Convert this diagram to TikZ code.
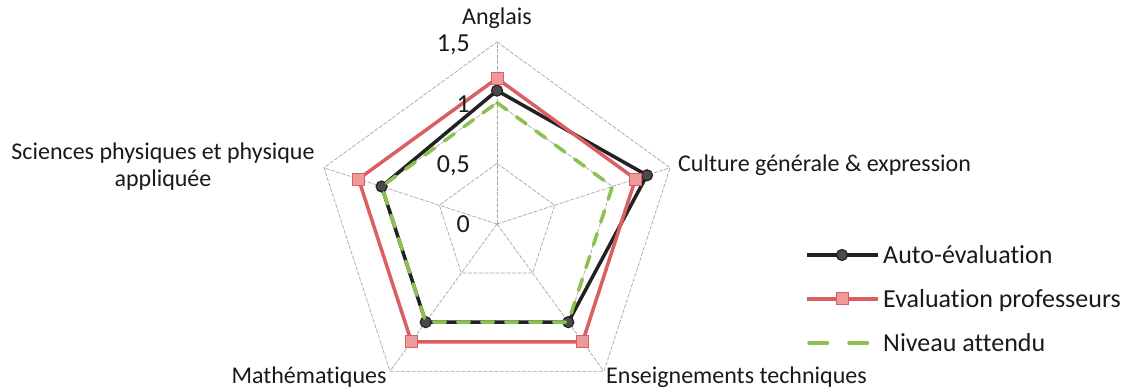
\documentclass[tikz,border=0pt]{standalone}
\usepackage{fontspec}
\setmainfont{Carlito}[Ligatures=CommonOff]
\usetikzlibrary{calc}
\definecolor{serA}{HTML}{222222}
\definecolor{serAf}{HTML}{4A4A4A}
\definecolor{serB}{HTML}{D95F63}
\definecolor{serBf}{HTML}{EE9A9C}
\definecolor{serC}{HTML}{8DC050}
\definecolor{gridc}{HTML}{A8A8A8}
\definecolor{txt}{HTML}{1A1A1A}
\tikzset{
 gridline/.style={draw=gridc, line width=0.7pt, dash pattern=on 4pt off 1.5pt},
 lineA/.style={draw=serA, line width=3.5pt, line join=round},
 lineB/.style={draw=serB, line width=3.5pt, line join=miter},
 lineC/.style={draw=serC, line width=3.5pt, dash pattern=on 12pt off 12pt, line cap=round},
 lineCleg/.style={draw=serC, line width=3.5pt, dash pattern=on 18.5pt off 21.5pt, line cap=round},
 markA/.style={circle, draw=serA, fill=serAf, line width=1.2pt, minimum size=11pt, inner sep=0pt},
 markB/.style={rectangle, draw=serB, fill=serBf, line width=1pt, minimum size=12pt, inner sep=0pt},
 axlabel/.style={font=\fontsize{24}{28}\selectfont, text=txt, inner sep=0pt},
 ticklabel/.style={font=\fontsize{26}{30}\selectfont, text=txt, inner sep=0pt, anchor=base east},
 leglabel/.style={font=\fontsize{26}{30}\selectfont, text=txt, inner sep=0pt, anchor=base west},
}
\begin{document}
\begin{tikzpicture}[x=1pt,y=1pt]
\useasboundingbox (0,0) rectangle (1138,391);
\fill[white] (0,0) rectangle (1138,391);
\coordinate (O) at (497,167);
\begin{scope}[shift={(497,167)}]
% grid rings
\foreach \r/\n in {60.65/h,121.3/o,182/t}{
  \coordinate (g\n1) at (90:\r);
  \coordinate (g\n2) at (18:\r);
  \coordinate (g\n3) at (-54:\r);
  \coordinate (g\n4) at (-126:\r);
  \coordinate (g\n5) at (162:\r);
  \draw[gridline] (g\n1) -- (g\n2) -- (g\n3) -- (g\n4) -- (g\n5) -- cycle;
}
\foreach \i in {1,...,5}{\draw[gridline] (O) -- (gt\i);}
% series coordinates
\coordinate (a1) at (90:133.4);
\coordinate (a2) at (18:157.7);
\coordinate (a3) at (-54:121.3);
\coordinate (a4) at (-126:121.3);
\coordinate (a5) at (162:121.3);
\coordinate (b1) at (90:145.6);
\coordinate (b2) at (18:145.6);
\coordinate (b3) at (-54:145.6);
\coordinate (b4) at (-126:145.6);
\coordinate (b5) at (162:145.6);
\coordinate (c1) at (90:121.3);
\coordinate (c2) at (18:121.3);
\coordinate (c3) at (-54:121.3);
\coordinate (c4) at (-126:121.3);
\coordinate (c5) at (162:121.3);
\end{scope}
% series A: auto-evaluation
\draw[lineA] (a1) -- (a2) -- (a3) -- (a4) -- (a5) -- cycle;
\foreach \i in {1,...,5}{\node[markA] (ma\i) at (a\i) {};}
% series B: evaluation professeurs
\draw[lineB] (b1) -- (b2) -- (b3) -- (b4) -- (b5) -- cycle;
\foreach \i in {1,...,5}{\node[markB] (mb\i) at (b\i) {};}
% series C: niveau attendu
\draw[lineC] (c1) -- (c2) -- (c3) -- (c4) -- (c5) -- cycle;
% tick labels
\node[ticklabel] (t15) at (470,339) {1,5};
\node[ticklabel] (t10) at (470,278) {1};
\node[ticklabel] (t05) at (470,218) {0,5};
\node[ticklabel] (t00) at (470,158) {0};
% axis labels
\node[axlabel, anchor=base] (lang) at (497,366) {Anglais};
\node[axlabel, anchor=base west] (lcult) at (678,219) {Culture générale \& expression};
\node[axlabel, anchor=base] (lsci1) at (163,231) {Sciences physiques et physique};
\node[axlabel, anchor=base] (lsci2) at (163,204) {appliquée};
\node[axlabel, anchor=base] (lmath) at (309,8) {Mathématiques};
\node[axlabel, anchor=base west] (lens) at (606,8) {Enseignements techniques};
% legend
\coordinate (lgA1) at (807,136); \coordinate (lgA2) at (878,136);
\draw[lineA] (lgA1) -- (lgA2);
\node[markA] (lgmA) at (842,136) {};
\node[leglabel] (lgtA) at (883,127.6) {Auto-évaluation};
\coordinate (lgB1) at (807,92); \coordinate (lgB2) at (878,92);
\draw[lineB] (lgB1) -- (lgB2);
\node[markB] (lgmB) at (842,92) {};
\node[leglabel] (lgtB) at (883,83.6) {Evaluation professeurs};
\coordinate (lgC1) at (809,48); \coordinate (lgC2) at (870,48);
\draw[lineCleg] (lgC1) -- (lgC2);
\node[leglabel] (lgtC) at (883,39.6) {Niveau attendu};
\end{tikzpicture}
\end{document}
